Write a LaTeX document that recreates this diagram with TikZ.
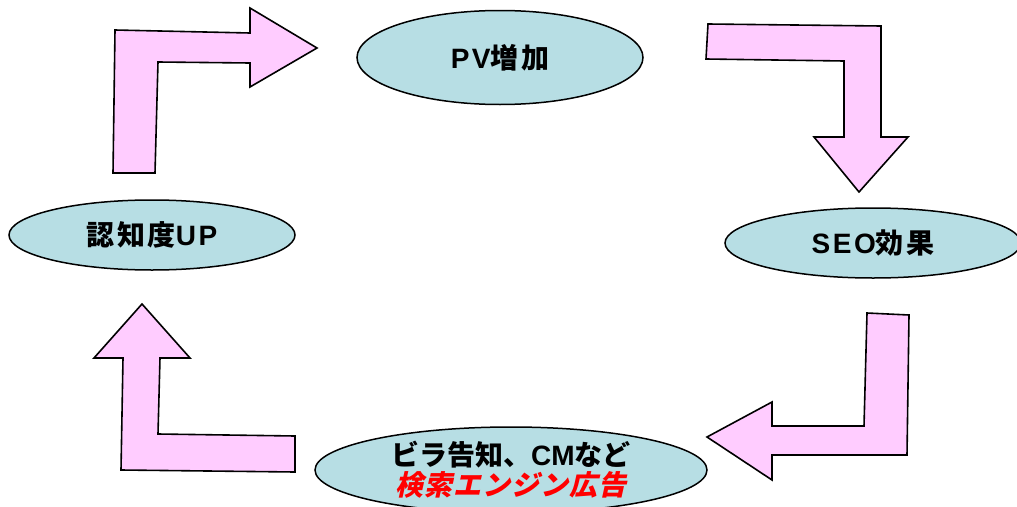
\documentclass[tikz,border=0pt]{standalone}
\usepackage{fontspec}
\setmainfont{Noto Sans CJK JP}
\newfontfamily\jpsp{Noto Sans CJK JP}[LetterSpace=9]
\newfontfamily\latsp{Liberation Sans}[LetterSpace=9]
\newfontfamily\lat{Liberation Sans}
\newfontfamily\jpsl{Noto Sans CJK JP}[FakeSlant=0.22,LetterSpace=4]
\usetikzlibrary{shapes.geometric}
\definecolor{pinkfill}{RGB}{255,204,255}
\definecolor{cyanfill}{RGB}{183,222,228}
\begin{document}
\begin{tikzpicture}[x=1pt,y=-1pt,
  bubble/.style={ellipse,draw=black,line width=1.5pt,fill=cyanfill,inner sep=0pt,
    font=\fontsize{28}{30}\selectfont\bfseries,align=center},
  bentarrow/.style={draw=black,line width=1.6pt,fill=pinkfill,line join=miter}]
\useasboundingbox (0,0) rectangle (1017,506);
\clip (0,0) rectangle (1017,506);

% ellipses
\node[bubble,minimum width=286pt,minimum height=94pt] (pv) at (500,57.5)
  {\jpsp\bfseries{\latsp PV}増加};
\node[bubble,minimum width=296pt,minimum height=70pt] (seo) at (873,243)
  {\jpsp\bfseries{\latsp SEO}効果};
\node[bubble,minimum width=286pt,minimum height=70pt] (aw) at (152,235)
  {\jpsp\bfseries 認知度{\latsp UP}};
\node[bubble,minimum width=392pt,minimum height=86pt] (ad) at (511,470)
  {ビラ告知、{\lat CM}など\\{\jpsl\bfseries\color{red}検索エンジン広告}};

% bent arrows
\draw[bentarrow] (115,30) -- (250,33) -- (250,8) -- (317,48) -- (250,87) -- (250,63)
  -- (158,62) -- (155,173) -- (113,173) -- cycle;
\draw[bentarrow] (708,24) -- (881,26) -- (881,137) -- (908,137) -- (859,192) -- (814,137)
  -- (844,137) -- (844,61) -- (706,59) -- cycle;
\draw[bentarrow] (867,313) -- (909,315) -- (907,455) -- (772,455) -- (772,480) -- (707,437)
  -- (772,402) -- (772,426) -- (864,426) -- cycle;
\draw[bentarrow] (142,304) -- (190,358) -- (160,358) -- (158,434) -- (295,436) -- (295,472)
  -- (121,470) -- (123,358) -- (94,358) -- cycle;
\end{tikzpicture}
\end{document}
